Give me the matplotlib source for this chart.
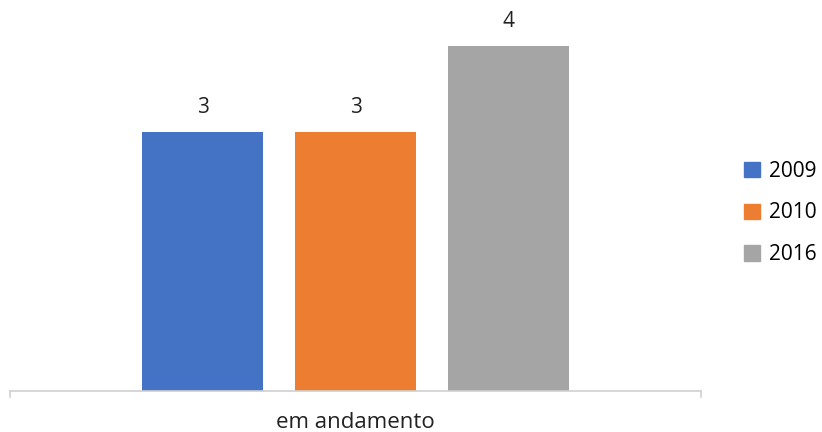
import matplotlib
matplotlib.use("Agg")
import matplotlib.pyplot as plt
from matplotlib.patches import Patch

categories = ["em andamento"]
series = ["2009", "2010", "2016"]
values = [3, 3, 4]
colors = ["#4472C4", "#ED7D31", "#A5A5A5"]

plt.rcParams['font.family'] = ['Open Sans', 'DejaVu Sans']

fig = plt.figure(figsize=(8.22, 4.32), dpi=100)
ax = fig.add_axes([10/822, 1 - 391/432, 691/822, 391/432])

offsets = [-0.2214, 0.0, 0.2214]
width = 0.1737
for i, (s, v, c) in enumerate(zip(series, values, colors)):
    x = 0.5 + offsets[i]
    ax.bar(x, v, width=width, color=c, label=s)
    ax.text(x, v + 0.28, str(v), ha='center', va='center', fontsize=15, color='#222222')

ax.set_xlim(0, 1)
ax.set_ylim(0, 4.53)
ax.set_yticks([])
ax.set_xticks([])
for sp in ['top', 'right', 'left']:
    ax.spines[sp].set_visible(False)
ax.spines['bottom'].set_color('#D0D0D0')
ax.spines['bottom'].set_linewidth(1.2)
for xe in [0, 1]:
    ax.plot([xe, xe], [0, -0.07], color='#D0D0D0', lw=1.2, clip_on=False)
ax.text(0.5, -0.36, categories[0], ha='center', va='center', fontsize=16, color='#222222')

handles = [Patch(color=c, label=s) for s, c in zip(series, colors)]
fig.legend(handles=handles, loc='center left', bbox_to_anchor=(744/822, 1 - 213/432),
           frameon=False, fontsize=15, handlelength=0.75, handleheight=0.75,
           labelspacing=1.0, handletextpad=0.45, borderpad=0, borderaxespad=0)

fig.savefig("out.png", dpi=100)
